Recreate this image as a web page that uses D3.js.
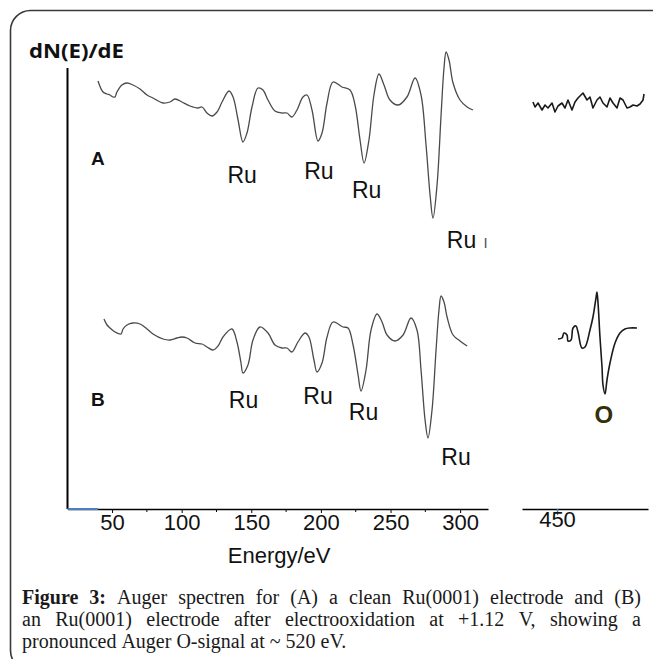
<!DOCTYPE html>
<html>
<head>
<meta charset="utf-8">
<script src="https://cdn.jsdelivr.net/npm/d3@7"></script>
<style>
  html, body { margin: 0; padding: 0; background: #fff; }
  svg { display: block; }
</style>
</head>
<body>
<svg id="chart" width="653" height="659"></svg>
<script>
// ---------- DATA (energy in eV, signal in arbitrary units) ----------
const spectrumA_low = [
  [39.9,428],[43.5,417],[46.3,415],[48.5,414],[50.7,412],[52.1,412],[53.5,417],[57.1,424],
  [60.7,426],[65.0,424],[70.1,420],[75.1,414],[79.4,411],[86.6,406],[91.6,407],[95.2,410],
  [100.2,407],[106.0,403],[111.7,401],[114.6,402],[118.2,396],[121.8,393],[125.4,397],
  [129.0,407],[134.0,418],[136.9,412],[140.5,389],[144.0,367],[146.9,376],[150.5,402],
  [154.8,421],[158.4,419],[162.0,409],[167.0,398],[172.1,396],[175.6,396],[179.2,392],
  [182.8,399],[187.1,412],[190.0,414],[193.6,399],[197.9,368],[200.8,376],[204.4,406],
  [208.7,427],[215.1,422],[220.9,419],[224.5,404],[228.1,369],[231.0,346],[234.5,369],
  [238.1,414],[241.7,435],[245.3,424],[249.6,409],[255.4,404],[261.8,412],[267.6,431],
  [271.9,414],[275.5,364],[278.4,314],[280.5,291],[283.4,324],[286.3,394],[288.4,441],
  [289.9,457],[292.0,449],[294.9,426],[299.9,409],[305.0,402],[309.2,399]
];
const spectrumA_high = [
  [415.7,407],[418.6,402],[422.9,406],[428.6,399],[432.9,404],[437.1,401],[442.9,406],
  [447.1,397],[451.4,403],[457.1,406],[461.4,401],[465.7,409],[471.4,399],[475.7,407],
  [480.0,411],[487.1,416],[492.9,409],[497.1,412],[501.4,401],[507.1,409],[511.4,412],
  [515.7,406],[521.4,402],[525.7,411],[530.0,406],[535.7,401],[540.0,411],[544.3,409],
  [550.0,401],[554.3,402],[558.6,404],[564.3,403],[568.6,405],[572.9,409],[574.3,415]
];
const spectrumB_low = [
  [44.2,190],[46.4,184],[48.5,181],[52.1,177],[56.4,175],[57.9,180],[60.7,184],[65.0,186],
  [70.1,185],[75.1,180],[79.4,175],[86.6,170],[91.6,169],[96.6,171],[100.2,172],[103.8,171],
  [109.6,166],[114.6,165],[118.2,162],[122.5,159],[126.1,163],[129.7,172],[136.1,180],
  [139.7,167],[142.6,146],[144.0,136],[147.6,144],[151.2,169],[156.2,182],[162.0,176],
  [167.0,164],[172.1,161],[175.6,161],[179.2,157],[183.5,167],[188.6,176],[191.4,172],
  [195.0,149],[197.2,137],[200.8,146],[204.4,172],[208.7,187],[215.9,182],[219.5,181],
  [223.1,164],[226.7,134],[228.8,118],[232.4,139],[236.0,179],[240.3,195],[243.9,187],
  [247.5,174],[253.2,168],[259.0,174],[264.7,191],[269.0,179],[271.9,139],[274.8,89],
  [276.9,71],[279.8,99],[282.7,159],[284.8,199],[286.3,213],[288.4,207],[290.6,192],
  [294.9,174],[299.9,168],[305.0,163]
];
const spectrumB_high = [
  [451.4,170],[457.1,171],[460.0,176],[464.3,174],[465.7,168],[470.0,169],[472.9,181],
  [477.1,183],[480.0,177],[485.7,161],[490.0,162],[497.1,179],[501.4,192],[505.7,211],
  [507.1,217],[508.6,206],[511.4,172],[514.3,142],[515.7,124],[518.6,115],[521.4,129],
  [525.7,146],[532.9,166],[540.0,176],[547.1,180],[554.3,181],[564.3,181]
];
const ticksLow = [50, 100, 150, 200, 250, 300];
const minorTicksLow = [75, 125, 175, 225, 275];
const ticksHigh = [450];
// annotation labels: [text, energy, signal, panel]
const peakLabelsA = [["Ru",143.4,326,"low"],["Ru",198.6,330,"low"],["Ru",232.8,311,"low"],["Ru",301,261,"low"]];
const peakLabelsB = [["Ru",144.4,101,"low"],["Ru",197.9,105,"low"],["Ru",230.6,89,"low"],["Ru",297,44,"low"]];
const oxygenLabel = ["O",517,86,"high"];
const captionLines = [
  "Figure 3: Auger spectren for (A) a clean Ru(0001) electrode and (B)",
  "an Ru(0001) electrode after electrooxidation at +1.12 V, showing a",
  "pronounced Auger O-signal at ~ 520 eV."
];

// ---------- SCALES ----------
const svg = d3.select("#chart");
const xLow = d3.scaleLinear().domain([18, 320]).range([67.5, 488]);
const xHigh = d3.scaleLinear().domain([400, 580]).range([522, 648]);
const y = d3.scaleLinear().domain([0, 441]).range([509, 68]);
const X = p => (p === "high" ? xHigh : xLow);

// frame
svg.append("rect")
  .attr("x", 10.5).attr("y", 10.5).attr("width", 720).attr("height", 660)
  .attr("rx", 20).attr("ry", 20)
  .attr("fill", "none").attr("stroke", "#3a3a3a").attr("stroke-width", 1.6);

// y axis line
svg.append("line")
  .attr("x1", xLow(18)).attr("x2", xLow(18))
  .attr("y1", y(441)).attr("y2", y(0))
  .attr("stroke", "#000").attr("stroke-width", 2);

// x axis low segment
const axisLow = d3.axisBottom(xLow).tickValues(ticksLow).tickSize(4).tickSizeOuter(0).tickFormat(d3.format("d"));
const gLow = svg.append("g").attr("transform", `translate(0,${y(0)})`).call(axisLow);
gLow.select(".domain").attr("stroke", "#000").attr("stroke-width", 1.6);
gLow.selectAll(".tick line").attr("stroke", "#000").attr("stroke-width", 1);
gLow.selectAll(".tick text")
  .attr("font-family", "'Liberation Sans', Arial, sans-serif").attr("font-size", 22)
  .attr("fill", "#111").attr("dy", "0.62em");
gLow.selectAll(".minor").data(minorTicksLow).enter().append("line")
  .attr("x1", d => xLow(d)).attr("x2", d => xLow(d)).attr("y1", 0).attr("y2", 3)
  .attr("stroke", "#000").attr("stroke-width", 1);
// blue start of axis
svg.append("line")
  .attr("x1", xLow(18)).attr("x2", xLow(40)).attr("y1", y(0)).attr("y2", y(0))
  .attr("stroke", "#4a7fc4").attr("stroke-width", 2);

// x axis high segment
const axisHigh = d3.axisBottom(xHigh).tickValues(ticksHigh).tickSize(6).tickSizeOuter(0).tickFormat(d3.format("d"));
const gHigh = svg.append("g").attr("transform", `translate(0,${y(0)})`).call(axisHigh);
gHigh.select(".domain").attr("stroke", "#000").attr("stroke-width", 1.6);
gHigh.selectAll(".tick line").attr("stroke", "#4a7fc4").attr("stroke-width", 1.5);
gHigh.selectAll(".tick text")
  .attr("font-family", "'Liberation Sans', Arial, sans-serif").attr("font-size", 22)
  .attr("fill", "#111").attr("dy", "0.62em").attr("y", 4);

// axis titles
svg.append("text").attr("x", xLow(170)).attr("y", 563)
  .attr("text-anchor", "middle")
  .attr("font-family", "'Liberation Sans', Arial, sans-serif").attr("font-size", 22)
  .attr("fill", "#111").text("Energy/eV");
const yTitle = svg.append("text").attr("x", 29).attr("y", 58)
  .attr("font-family", "'Open Sans', 'Noto Sans', sans-serif").attr("font-weight", "bold")
  .attr("font-size", 20).attr("fill", "#111").text("dN(E)/dE");
yTitle.attr("textLength", 95).attr("lengthAdjust", "spacingAndGlyphs");

// spectra
const lineLow = d3.line().x(d => xLow(d[0])).y(d => y(d[1])).curve(d3.curveCatmullRom.alpha(0.5));
const lineHigh = d3.line().x(d => xHigh(d[0])).y(d => y(d[1])).curve(d3.curveLinear);
const lineHighSmooth = d3.line().x(d => xHigh(d[0])).y(d => y(d[1])).curve(d3.curveCatmullRom.alpha(0.5));
[spectrumA_low, spectrumB_low].forEach(s => {
  svg.append("path").datum(s).attr("d", lineLow)
    .attr("fill", "none").attr("stroke", "#4a4a4a").attr("stroke-width", 1.3);
});
svg.append("path").datum(spectrumA_high).attr("d", lineHigh)
  .attr("fill", "none").attr("stroke", "#1a1a1a").attr("stroke-width", 1.6).attr("stroke-linejoin", "round");
svg.append("path").datum(spectrumB_high).attr("d", lineHighSmooth)
  .attr("fill", "none").attr("stroke", "#1a1a1a").attr("stroke-width", 1.6);

// panel letters
svg.append("text").attr("x", 91).attr("y", 165)
  .attr("font-family", "'Liberation Sans', Arial, sans-serif").attr("font-weight", "bold")
  .attr("font-size", 19).attr("fill", "#111").text("A");
svg.append("text").attr("x", 91).attr("y", 406)
  .attr("font-family", "'Liberation Sans', Arial, sans-serif").attr("font-weight", "bold")
  .attr("font-size", 19).attr("fill", "#111").text("B");

// peak labels
peakLabelsA.concat(peakLabelsB).forEach(l => {
  svg.append("text").attr("x", X(l[3])(l[1])).attr("y", y(l[2]))
    .attr("text-anchor", "middle")
    .attr("font-family", "'Liberation Sans', Arial, sans-serif").attr("font-size", 23)
    .attr("fill", "#111").text(l[0]);
});
// small stray bar after the last A label
svg.append("text").attr("x", xLow(301) + 22).attr("y", y(261))
  .attr("font-family", "'Liberation Sans', Arial, sans-serif").attr("font-size", 15)
  .attr("fill", "#555").text("I");
svg.append("text").attr("x", xHigh(oxygenLabel[1])).attr("y", y(oxygenLabel[2]))
  .attr("text-anchor", "middle")
  .attr("font-family", "'Liberation Sans', Arial, sans-serif").attr("font-weight", "bold")
  .attr("font-size", 24).attr("fill", "#33300a").text(oxygenLabel[0]);

// caption (justified)
const capX0 = 22, capX1 = 641, capY0 = 604, capDY = 22;
captionLines.forEach((line, i) => {
  const words = line.split(" ");
  const t = svg.append("text").attr("y", capY0 + i * capDY)
    .attr("font-family", "'Liberation Serif', 'Times New Roman', serif")
    .attr("font-size", 20).attr("fill", "#1a1a1a");
  const spans = words.map((w, j) => t.append("tspan")
    .attr("font-weight", (i === 0 && j < 2) ? "bold" : "normal").text(w));
  const widths = spans.map(s => s.node().getComputedTextLength());
  const total = d3.sum(widths);
  const justify = i < captionLines.length - 1;
  const gap = justify ? (capX1 - capX0 - total) / (words.length - 1) : 5;
  let x = capX0;
  spans.forEach((s, j) => { s.attr("x", x); x += widths[j] + gap; });
});
</script>
</body>
</html>
